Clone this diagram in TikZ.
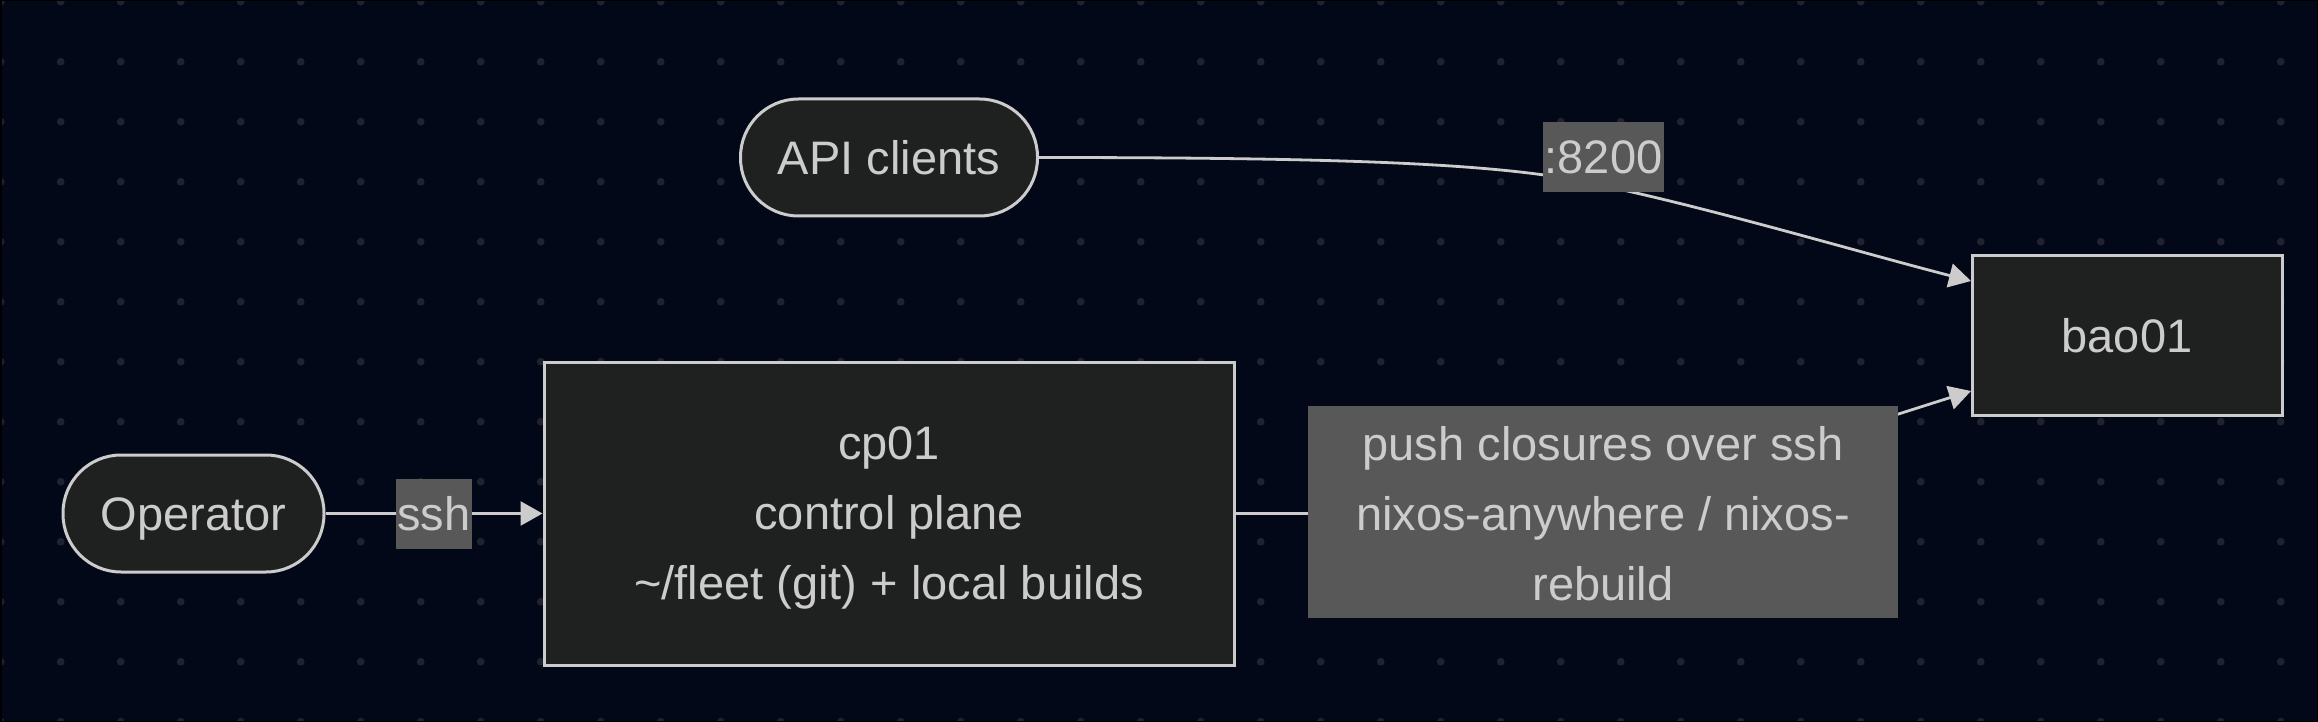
\documentclass[tikz,border=0pt]{standalone}
\usepackage{fontspec}
\setmainfont{Liberation Sans}
\usetikzlibrary{arrows.meta}
\definecolor{bg}{HTML}{020817}
\definecolor{dotc}{HTML}{20232F}
\definecolor{nodefill}{HTML}{1F2020}
\definecolor{strk}{HTML}{CCCCCC}
\definecolor{txt}{HTML}{CCCCCC}
\definecolor{lblfill}{HTML}{585858}
\begin{document}
\begin{tikzpicture}[x=1pt,y=-1pt,
  every node/.style={font=\fontsize{47}{70}\selectfont, text=txt},
  box/.style={draw=strk, line width=3pt, fill=nodefill, inner sep=0pt},
  onebox/.style={box, text height=34pt, text depth=0pt},
  pill/.style={onebox, rounded corners=58pt},
  txtblock/.style={inner sep=0pt, align=center},
  lbl/.style={fill=lblfill, inner xsep=1.5pt, inner ysep=0pt, minimum height=70pt, text height=34pt, text depth=0pt},
  lblbox/.style={fill=lblfill, inner sep=0pt},
  edge/.style={draw=strk, line width=2.8pt, -{Triangle[length=22pt,width=24pt]}}
]
\useasboundingbox (0,0) rectangle (2318,722);
\fill[bg] (0,0) rectangle (2318,722);
\foreach \i in {0,...,38}{
  \foreach \j in {0,...,12}{
    \fill[dotc] (60*\i+0.7,60*\j+1.7) circle (3.9);
  }
}
\draw[black, line width=3pt] (0,0) rectangle (2318,722);

% nodes
\node[pill, minimum width=261pt, minimum height=117pt] (op) at (193.5,513.5) {Operator};
\node[pill, minimum width=297pt, minimum height=117pt] (api) at (889,157.5) {API clients};
\node[box, minimum width=690pt, minimum height=303pt] (cp) at (889,513.5) {};
\node[txtblock] (cptext) at ([yshift=-4pt]cp.center) {cp01\\control plane\\\textasciitilde/fleet (git) + local builds};
\node[onebox, minimum width=310pt, minimum height=160pt] (bao) at (2127,335.5) {bao01};

\coordinate (t1) at (1971,281);
\coordinate (t2) at (1971,391);
\coordinate (c2) at (1544,175);

% edges
\draw[edge] (op.east) -- (cp.west);
\draw[edge] (api.east) .. controls (1300,157.5) and (1450,162) .. (c2)
  .. controls (1650,190) and (1850,250) .. (t1);
\draw[edge] (cp.east) -- (1400,513.5) .. controls (1600,513.5) and (1800,445) .. (t2);

% labels
\node[lbl] (ssh) at (434,513.5) {ssh};
\node[lbl] (port) at (1603.5,157) {:8200};
\node[lblbox, minimum width=590pt, minimum height=212pt] (push) at (1603,512) {};
\node[txtblock] (pushtext) at ([yshift=-2pt]push.center) {push closures over ssh\\nixos-anywhere / nixos-\\rebuild};
\end{tikzpicture}
\end{document}
